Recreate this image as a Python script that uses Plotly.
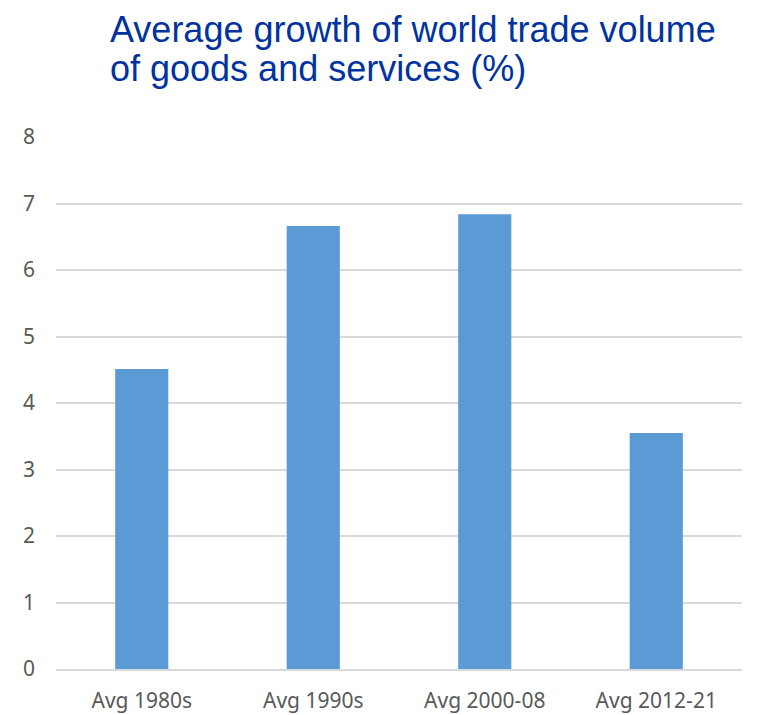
import plotly.graph_objects as go

categories = ["Avg 1980s", "Avg 1990s", "Avg 2000-08", "Avg 2012-21"]
growth = [4.51, 6.66, 6.84, 3.55]
y_ticks = [0, 1, 2, 3, 4, 5, 6, 7, 8]
title_lines = ["Average growth of world trade volume", "of goods and services (%)"]

W, H = 758, 715
ML, MR, MT, MB = 56, 16, 137, 46
PW, PH = W - ML - MR, H - MT - MB

fig = go.Figure(go.Bar(x=categories, y=growth, marker=dict(color="#5B9BD5", line=dict(width=0)),
                       width=0.31))

title_font = dict(family="Liberation Sans, Arial, sans-serif", size=36, color="#0033A0")
for line, ymid in zip(title_lines, [29, 68]):
    fig.add_annotation(text=line, x=(108 - ML) / PW, y=(H - MB - ymid) / PH,
                       xref="paper", yref="paper", xanchor="left", yanchor="middle",
                       showarrow=False, font=title_font)

fig.update_layout(
    width=W, height=H,
    margin=dict(l=ML, r=MR, t=MT, b=MB),
    paper_bgcolor="white", plot_bgcolor="white",
    showlegend=False,
    font=dict(family="Noto Sans", color="#595959", size=21),
)

fig.update_yaxes(range=[0, 8], tickvals=y_ticks, showgrid=True, gridcolor="#D9D9D9", gridwidth=1.5,
                 zeroline=False, showline=False, ticks="", ticklabelstandoff=20, automargin=False,
                 tickfont=dict(size=21, color="#595959"))
fig.update_xaxes(showline=True, linecolor="#D9D9D9", linewidth=1.5, ticks="", automargin=False,
                 ticklabelstandoff=12, tickfont=dict(size=21, color="#595959"))

fig.write_html("out.html")
